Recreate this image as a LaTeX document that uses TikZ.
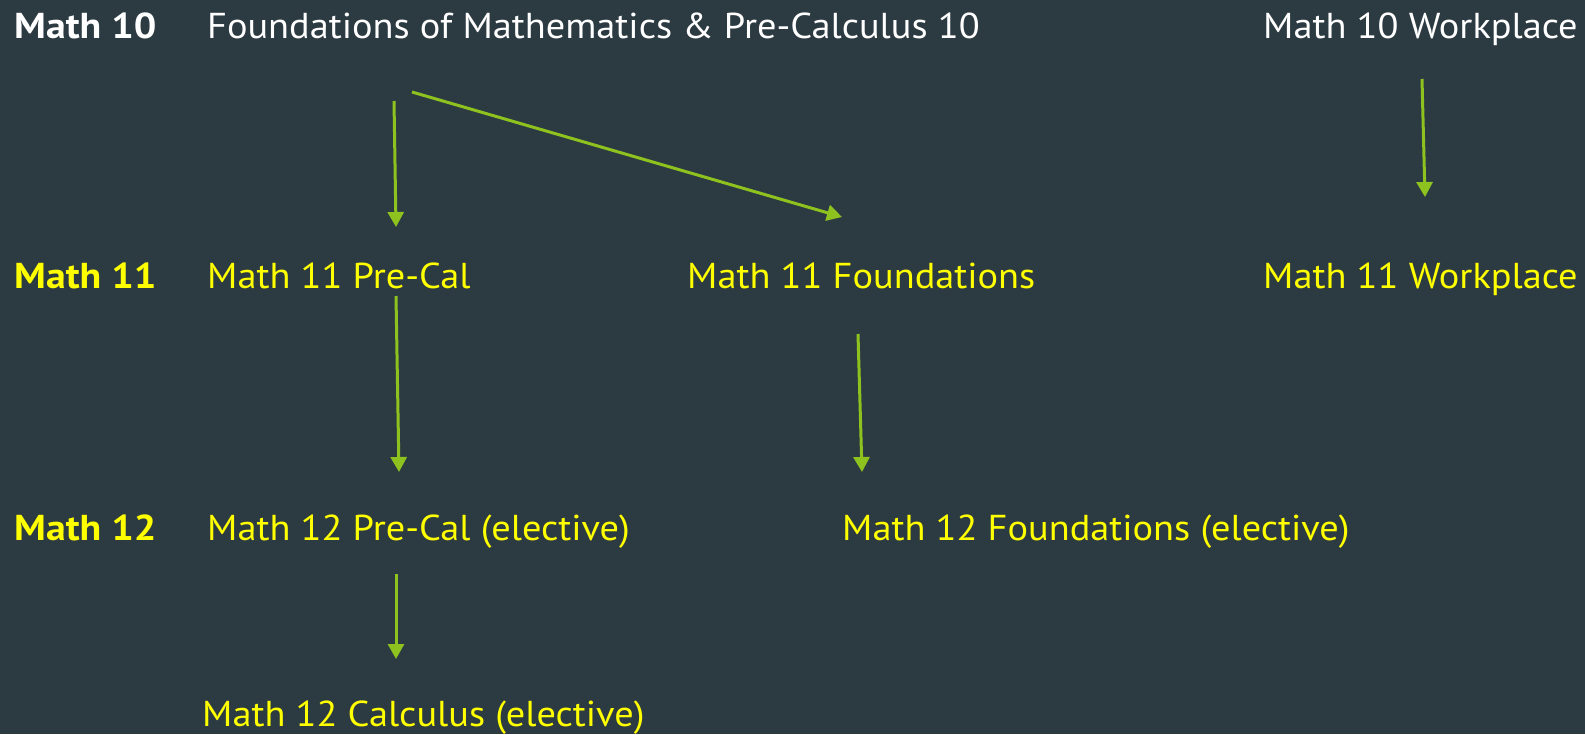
\documentclass[tikz,border=0pt]{standalone}
\usepackage{fontspec}
\setmainfont{PT Sans}[FakeStretch=1.065, BoldFeatures={FakeStretch=1.105}]
\usetikzlibrary{arrows.meta}
\definecolor{bgc}{RGB}{44,58,66}
\definecolor{arrc}{RGB}{141,194,31}
\definecolor{yel}{RGB}{255,255,0}
\tikzset{
  lab/.style={anchor=base west, inner sep=0pt, font=\fontsize{36}{42}\selectfont},
  wlab/.style={lab, text=white},
  ylab/.style={lab, text=yel},
  conn/.style={draw=arrc, line width=3pt, -{Triangle[width=16pt,length=15pt]}}
}
\begin{document}
\begin{tikzpicture}[x=1pt,y=-1pt]
\fill[bgc] (0,0) rectangle (1585,734);
\useasboundingbox (0,0) rectangle (1585,734);
% row 1
\node[wlab] (m10) at (14,38) {\bfseries Math 10};
\node[wlab] (fpc10) at (207,38) {Foundations of Mathematics \& Pre-Calculus 10};
\node[wlab] (w10) at (1263,38) {Math 10 Workplace};
% row 2
\node[ylab] (m11) at (14,288) {\bfseries Math 11};
\node[ylab] (pc11) at (207,288) {Math 11 Pre-Cal};
\node[ylab] (f11) at (687,288) {Math 11 Foundations};
\node[ylab] (w11) at (1263,288) {Math 11 Workplace};
% row 3
\node[ylab] (m12) at (14,540) {\bfseries Math 12};
\node[ylab] (pc12) at (207,540) {Math 12 Pre-Cal (elective)};
\node[ylab] (f12) at (842,540) {Math 12 Foundations (elective)};
% row 4
\node[ylab] (calc12) at (202,726) {Math 12 Calculus (elective)};
% arrow endpoints
\coordinate (a1s) at (394,101); \coordinate (a1e) at (396,227);
\coordinate (a2s) at (412,92);  \coordinate (a2e) at (842,217);
\coordinate (a3s) at (1422,79); \coordinate (a3e) at (1425,197);
\coordinate (a4s) at (396,296); \coordinate (a4e) at (399,472);
\coordinate (a5s) at (858,334); \coordinate (a5e) at (862,472);
\coordinate (a6s) at (396,574); \coordinate (a6e) at (396,659);
\draw[conn] (a1s) -- (a1e);
\draw[conn] (a2s) -- (a2e);
\draw[conn] (a3s) -- (a3e);
\draw[conn] (a4s) -- (a4e);
\draw[conn] (a5s) -- (a5e);
\draw[conn] (a6s) -- (a6e);
\end{tikzpicture}
\end{document}
